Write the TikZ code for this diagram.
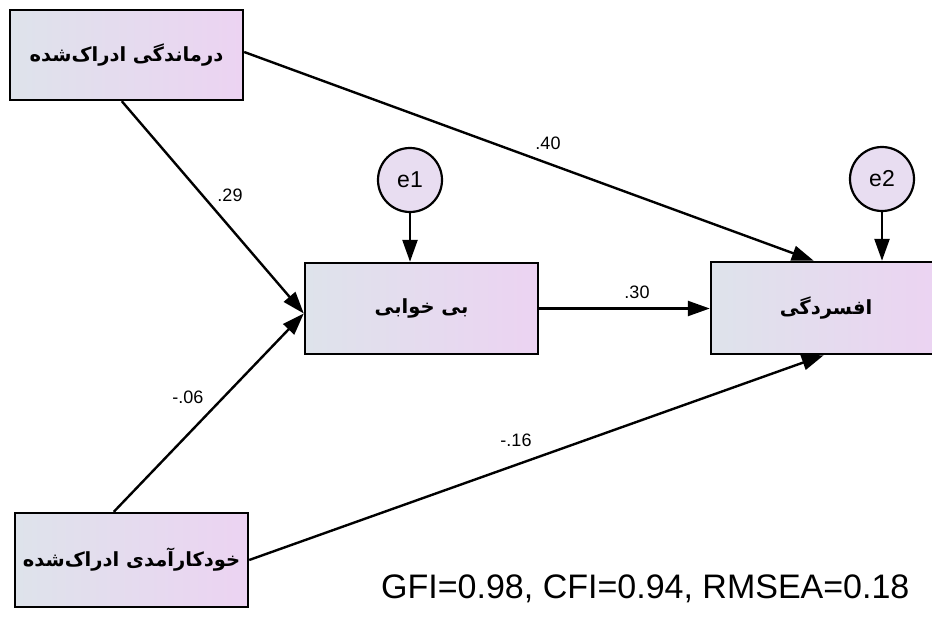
\documentclass[tikz,border=0pt]{standalone}
\usepackage{fontspec}
\setmainfont{Liberation Sans}
\newfontfamily\fa[Script=Arabic]{DejaVu Sans}
\TeXXeTstate=1
\usetikzlibrary{arrows.meta,calc}
\definecolor{boxl}{HTML}{DEE3EB}
\definecolor{boxr}{HTML}{ECD3F2}
\definecolor{circfill}{HTML}{E8DDF1}
\tikzset{
  varbox/.style={draw=black, line width=2.4pt, left color=boxl, right color=boxr,
    minimum width=233pt, inner sep=0pt, font=\fa\bfseries\fontsize{19.5}{22}\selectfont},
  errc/.style={circle, draw=black, line width=2.2pt, fill=circfill, minimum size=64pt,
    inner sep=0pt, font=\fontsize{23}{26}\selectfont},
  path/.style={line width=2.4pt, -{Triangle[length=22pt,width=15pt]}},
  coef/.style={font=\fontsize{18}{20}\selectfont, inner sep=1pt},
}
\begin{document}
\begin{tikzpicture}[x=1pt,y=-1pt]
\useasboundingbox (0,0) rectangle (932,629);
\node[varbox, minimum height=90pt] (b1) at (126.5,55) {\beginR درماندگی ادراک‌شده\endR};
\node[varbox, minimum height=91pt] (b2) at (421.5,308.5) {\beginR بی خوابی\endR};
\node[varbox, minimum height=92pt, minimum width=230pt] (b3) at (826,308) {\beginR افسردگی\endR};
\node[varbox, minimum height=94pt] (b4) at (131.5,560) {\beginR خودکارآمدی ادراک‌شده\endR};
\node[errc] (e1) at (410,180) {e1};
\node[errc] (e2) at (882,179) {e2};

\draw[path] ($(b1.east)+(0,-3)$) -- ($(b3.north west)+(104,0)$);
\draw[path] ($(b1.south west)+(113,0)$) -- ($(b2.west)+(0,5)$);
\draw[path] ($(b4.north west)+(100,0)$) -- ($(b2.west)+(0,5)$);
\draw[path] (b4.east) -- ($(b3.south west)+(114,0)$);
\draw[path] (b2.east) -- (b2.east -| b3.west);
\draw[path] (e1.south) -- (e1.south |- b2.north);
\draw[path] (e2.south) -- (e2.south |- b3.north);

\node[coef] (c40) at (548,143) {.40};
\node[coef] (c29) at (230,195) {.29};
\node[coef] (c06) at (188,397) {-.06};
\node[coef] (c16) at (516,440) {-.16};
\node[coef] (c30) at (637,292) {.30};
\node[anchor=base west, inner sep=0pt, font=\fontsize{34}{38}\selectfont] (fit) at (381,598) {GFI=0.98, CFI=0.94, RMSEA=0.18};
\end{tikzpicture}
\end{document}
